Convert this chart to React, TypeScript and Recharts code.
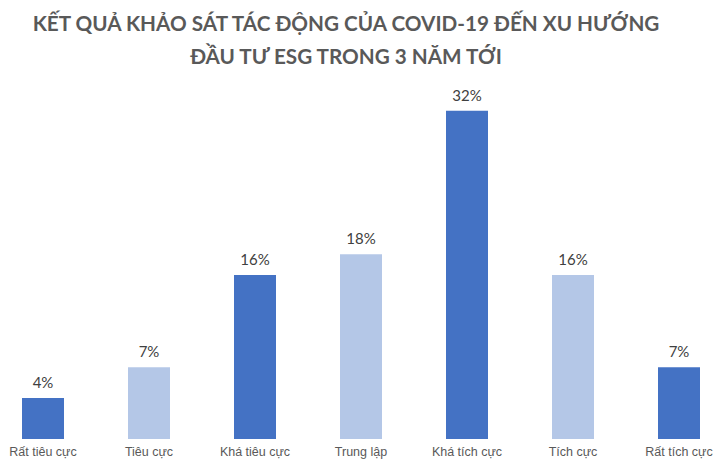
import React from "react";
import { BarChart, Bar, XAxis, YAxis, Cell, LabelList } from "recharts";

const categories = ["Rất tiêu cực", "Tiêu cực", "Khá tiêu cực", "Trung lập", "Khá tích cực", "Tích cực", "Rất tích cực"];
const values = [4, 7, 16, 18, 32, 16, 7];
const colors = ["#4472C4", "#B4C7E7", "#4472C4", "#B4C7E7", "#4472C4", "#B4C7E7", "#4472C4"];
const titleLines = ["KẾT QUẢ KHẢO SÁT TÁC ĐỘNG CỦA COVID-19 ĐẾN XU HƯỚNG", "ĐẦU TƯ ESG TRONG 3 NĂM TỚI"];

const data = categories.map((c, i) => ({ name: c, value: values[i] }));

export default function App() {
  return (
    <div style={{ position: "fixed", left: 0, top: 0, width: 720, height: 465, overflow: "hidden", background: "#fff" }}>
      <div
        style={{
          position: "absolute",
          left: 0,
          top: 7,
          width: 692,
          textAlign: "center",
          fontFamily: "Lato, 'Open Sans', sans-serif",
          fontWeight: 700,
          fontSize: 20.7,
          lineHeight: "33px",
          color: "#595959",
        }}
      >
        {titleLines.map((t) => (
          <div key={t}>{t}</div>
        ))}
      </div>
      <div style={{ position: "absolute", left: -10, top: 0 }}>
        <BarChart width={742} height={465} data={data} margin={{ top: 80, right: 0, bottom: 0, left: 0 }}>
          <XAxis
            dataKey="name"
            axisLine={false}
            tickLine={false}
            height={26}
            interval={0}
            tick={{ fontSize: 12.5, fill: "#595959", fontFamily: "'Liberation Sans', Arial, sans-serif" }}
          />
          <YAxis hide domain={[0, 35]} />
          <Bar dataKey="value" barSize={42} isAnimationActive={false}>
            {data.map((d, i) => (
              <Cell key={d.name} fill={colors[i]} />
            ))}
            <LabelList
              dataKey="value"
              position="top"
              offset={10}
              formatter={(v: number) => `${v}%`}
              style={{ fontSize: 15, fill: "#404040", fontFamily: "Lato, 'Open Sans', sans-serif" }}
            />
          </Bar>
        </BarChart>
      </div>
    </div>
  );
}
